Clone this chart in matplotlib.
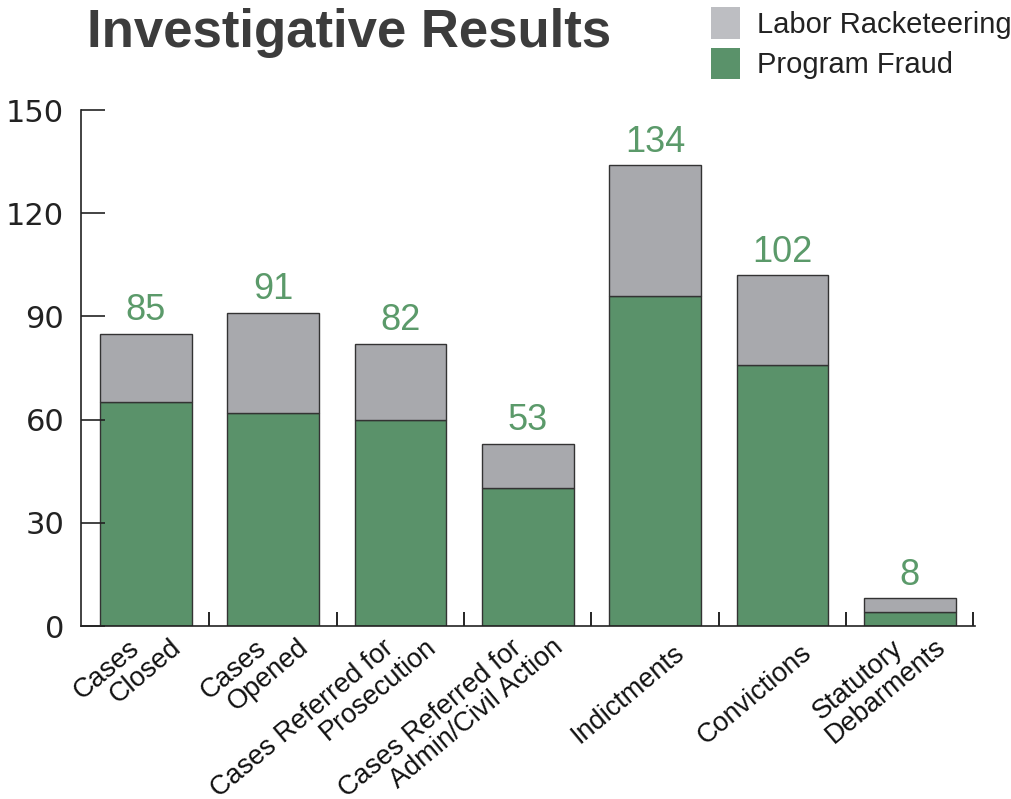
import matplotlib.pyplot as plt
import numpy as np
from matplotlib.patches import Patch

plt.rcParams['font.family'] = ['Liberation Sans', 'DejaVu Sans']

categories = ["Cases\nClosed", "Cases\nOpened", "Cases Referred for\nProsecution",
              "Cases Referred for\nAdmin/Civil Action", "Indictments", "Convictions",
              "Statutory\nDebarments"]
program_fraud = [65, 62, 60, 40, 96, 76, 4]
totals = [85, 91, 82, 53, 134, 102, 8]
labor_racketeering = [t - p for t, p in zip(totals, program_fraud)]

green = '#5a926a'
gray = '#a8a9ad'
label_green = '#5b9a6a'

fig = plt.figure(figsize=(10.11, 7.99), dpi=100)
ax = fig.add_axes([0.080, 0.2165, 0.884, 0.6458])

x = np.arange(len(categories))
ax.bar(x, program_fraud, width=0.72, color=green, edgecolor='#333333', linewidth=1)
ax.bar(x, labor_racketeering, width=0.72, bottom=program_fraud, color=gray,
       edgecolor='#333333', linewidth=1)

for xi, t in zip(x, totals):
    ax.annotate(str(t), (xi, t), xytext=(0, 4), textcoords='offset points',
                ha='center', va='bottom', fontsize=26, color=label_green)

ax.set_xlim(-0.51, len(categories) - 0.49)
ax.set_ylim(0, 150)
ax.set_yticks([0, 30, 60, 90, 120, 150])
ax.tick_params(axis='y', direction='in', length=17, width=1.2, pad=12,
               labelsize=22, colors='#222222')
for lab in ax.get_yticklabels():
    lab.set_family('DejaVu Sans')

# category labels: each line drawn on its own, second line shifted right
ax.set_xticks(x)
ax.set_xticklabels([])
ax.tick_params(axis='x', length=0)
for xi, cat in zip(x, categories):
    lines = cat.split('\n')
    if len(lines) == 1:
        starts = [(18, -14)]
    else:
        starts = [(-18, -9), (24, -8)]
    for line, (dx, dy) in zip(lines, starts):
        ax.annotate(line, xy=(xi, 0), xycoords=('data', 'axes fraction'),
                    xytext=(dx, dy), textcoords='offset pixels',
                    ha='right', va='top', rotation=40, rotation_mode='anchor',
                    fontsize=19.5, color='#111111', annotation_clip=False)

ax.set_xticks(list(x + 0.5), minor=True)
ax.tick_params(axis='x', which='minor', direction='in', length=10, width=1.2)

for s in ['top', 'right']:
    ax.spines[s].set_visible(False)
for s in ['left', 'bottom']:
    ax.spines[s].set_linewidth(1.2)
    ax.spines[s].set_color('#222222')

fig.text(0.345, 0.959, "Investigative Results", ha='center', va='center',
         fontsize=38, fontweight='bold', color='#3c3c3c')

handles = [Patch(facecolor='#bdbec2', edgecolor='none'),
           Patch(facecolor=green, edgecolor='none')]
fig.legend(handles, ["Labor Racketeering", "Program Fraud"], loc='upper left',
           bbox_to_anchor=(0.677, 1.024), frameon=False, fontsize=21,
           handlelength=1.0, handleheight=1.3, handletextpad=0.6, labelspacing=0.3,
           labelcolor='#222222')

fig.savefig('out.png', dpi=100)
